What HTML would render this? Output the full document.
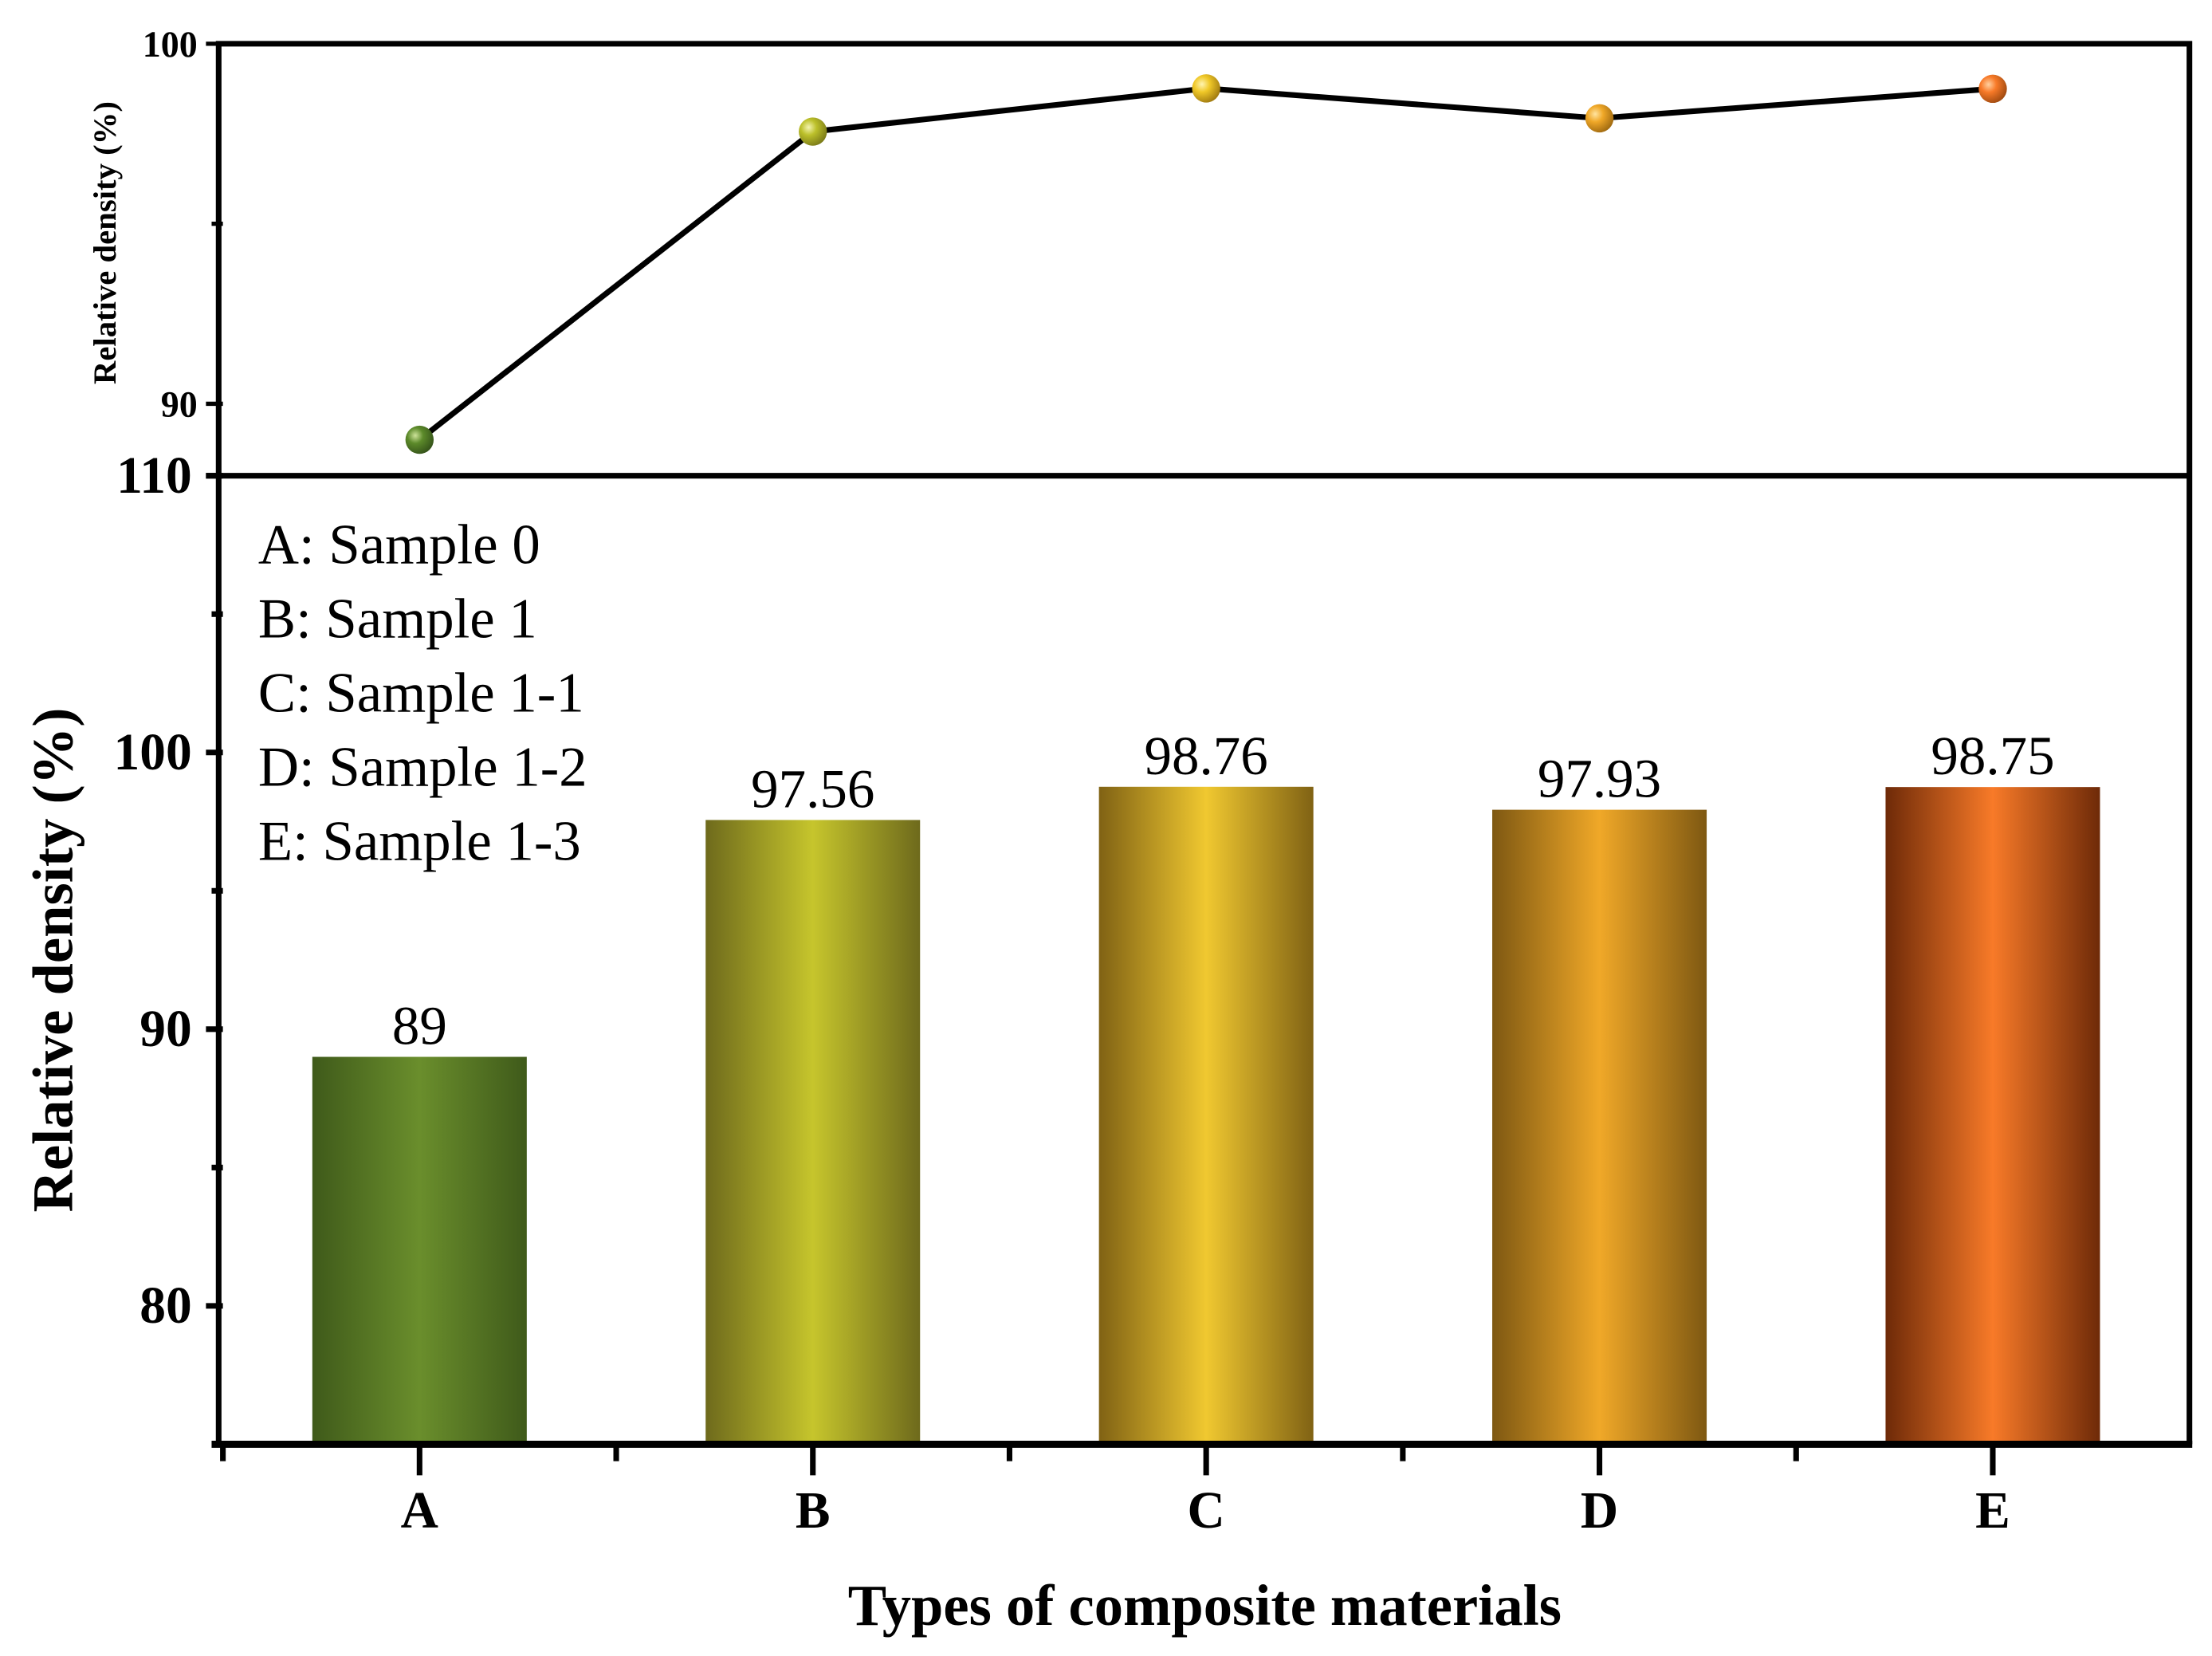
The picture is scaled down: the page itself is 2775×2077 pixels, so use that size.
<!DOCTYPE html>
<html><head><meta charset="utf-8"><style>
html,body{margin:0;padding:0;background:#fff}
svg{display:block}
text{font-family:"Liberation Serif",serif;fill:#000}
</style></head><body>
<svg id="chart" width="2775" height="2077" viewBox="0 0 1568 1173" preserveAspectRatio="none" xmlns="http://www.w3.org/2000/svg">
<defs>
<linearGradient id="gA" x1="0" x2="1" y1="0" y2="0"><stop offset="0" stop-color="#3f5a1a"/><stop offset="0.5" stop-color="#6a8e2c"/><stop offset="1" stop-color="#3f5a1a"/></linearGradient>
<linearGradient id="gB" x1="0" x2="1" y1="0" y2="0"><stop offset="0" stop-color="#6e6a1c"/><stop offset="0.5" stop-color="#c6c52c"/><stop offset="1" stop-color="#6e6a1c"/></linearGradient>
<linearGradient id="gC" x1="0" x2="1" y1="0" y2="0"><stop offset="0" stop-color="#806214"/><stop offset="0.5" stop-color="#f0c830"/><stop offset="1" stop-color="#806214"/></linearGradient>
<linearGradient id="gD" x1="0" x2="1" y1="0" y2="0"><stop offset="0" stop-color="#7e5812"/><stop offset="0.5" stop-color="#f0a828"/><stop offset="1" stop-color="#7e5812"/></linearGradient>
<linearGradient id="gE" x1="0" x2="1" y1="0" y2="0"><stop offset="0" stop-color="#6e2a08"/><stop offset="0.5" stop-color="#f87a28"/><stop offset="1" stop-color="#6e2a08"/></linearGradient>
<radialGradient id="mA" cx="0.35" cy="0.35" r="0.7"><stop offset="0" stop-color="#cde39a"/><stop offset="0.4" stop-color="#5c8a2a"/><stop offset="1" stop-color="#35531a"/></radialGradient>
<radialGradient id="mB" cx="0.35" cy="0.35" r="0.7"><stop offset="0" stop-color="#f4f4b0"/><stop offset="0.4" stop-color="#bcc02a"/><stop offset="1" stop-color="#7a7a18"/></radialGradient>
<radialGradient id="mC" cx="0.35" cy="0.35" r="0.7"><stop offset="0" stop-color="#fff4b0"/><stop offset="0.4" stop-color="#f0c828"/><stop offset="1" stop-color="#a07a10"/></radialGradient>
<radialGradient id="mD" cx="0.35" cy="0.35" r="0.7"><stop offset="0" stop-color="#ffe4a0"/><stop offset="0.4" stop-color="#f0a828"/><stop offset="1" stop-color="#a06a10"/></radialGradient>
<radialGradient id="mE" cx="0.35" cy="0.35" r="0.7"><stop offset="0" stop-color="#ffd0a0"/><stop offset="0.4" stop-color="#f87a28"/><stop offset="1" stop-color="#a04a10"/></radialGradient>
</defs>
<g id="layer"></g>
</svg>
<script>
const categories = ["A","B","C","D","E"];
const densityValues = [89, 97.56, 98.76, 97.93, 98.75];
const valueLabels = ["89","97.56","98.76","97.93","98.75"];
const bottomTicks = [80, 90, 100, 110];
const topTicks = [90, 100];
const legendLines = ["A: Sample 0","B: Sample 1","C: Sample 1-1","D: Sample 1-2","E: Sample 1-3"];

const NS = "http://www.w3.org/2000/svg";
const L = document.getElementById("layer");
function mk(tag, attrs, txt){const e=document.createElementNS(NS,tag);for(const k in attrs)e.setAttribute(k,attrs[k]);if(txt!==undefined)e.textContent=txt;L.appendChild(e);return e;}
const xL=158, xR=1552, yTop=31, yDiv=337, yBot=1023;
function xPos(i){return xL + (i+0.5)*(xR-xL)/categories.length;}
function yB(v){return 337 + (110-v)*19.6;}
function yT(v){return 31 + (100-v)*25.5;}
const gradIds=["A","B","C","D","E"];

categories.forEach((c,i)=>{
  const v=densityValues[i], x=xPos(i), y=yB(v);
  const r=mk("rect",{x:x-76,y:y,width:152,height:yBot-y,fill:"url(#g"+gradIds[i%5]+")"});
  
  
  const t=mk("text",{x:x,y:y-9,"text-anchor":"middle","font-size":39},valueLabels[i]);
  
  
});
const pts=categories.map((c,i)=>xPos(i)+","+yT(densityValues[i])).join(" ");
const pl=mk("polyline",{points:pts,fill:"none",stroke:"#000","stroke-width":4});


categories.forEach((c,i)=>{
  const m=mk("circle",{cx:xPos(i),cy:yT(densityValues[i]),r:10,fill:"url(#m"+gradIds[i%5]+")"});
  
  
});
const f1=mk("path",{d:`M${xL-3} ${yDiv} L${xL-3} ${yTop} L${xR} ${yTop} L${xR} ${yBot}`,fill:"none",stroke:"#000","stroke-width":4});


const f2=mk("line",{x1:xL-3,y1:yDiv,x2:xL-3,y2:yBot,stroke:"#000","stroke-width":4});


const f3=mk("line",{x1:146,y1:yDiv,x2:xR,y2:yDiv,stroke:"#000","stroke-width":4});


const f4=mk("line",{x1:150,y1:yBot,x2:xR+2,y2:yBot,stroke:"#000","stroke-width":5});


bottomTicks.forEach(v=>{
  mk("line",{x1:146,y1:yB(v),x2:xL,y2:yB(v),stroke:"#000","stroke-width":4});
  const t=mk("text",{x:136,y:yB(v)+12,"text-anchor":"end","font-size":37,"font-weight":"bold"},String(v));
  
  
});
[85,95,105].forEach(v=>mk("line",{x1:150,y1:yB(v),x2:xL,y2:yB(v),stroke:"#000","stroke-width":4}));
topTicks.forEach(v=>{
  mk("line",{x1:146,y1:yT(v),x2:xL,y2:yT(v),stroke:"#000","stroke-width":3});
  const t=mk("text",{x:140,y:yT(v)+9,"text-anchor":"end","font-size":26,"font-weight":"bold"},String(v));
  
  
});
mk("line",{x1:150,y1:yT(95),x2:xL,y2:yT(95),stroke:"#000","stroke-width":3});
categories.forEach((c,i)=>{
  mk("line",{x1:xPos(i),y1:yBot,x2:xPos(i),y2:yBot+22,stroke:"#000","stroke-width":4});
  const t=mk("text",{x:xPos(i),y:1082,"text-anchor":"middle","font-size":37,"font-weight":"bold"},c);
  
  
  const xm=xL+(i)*(xR-xL)/categories.length;
  if(i>0) mk("line",{x1:xm,y1:yBot,x2:xm,y2:yBot+12,stroke:"#000","stroke-width":4});
});
mk("line",{x1:158,y1:yBot,x2:158,y2:yBot+12,stroke:"#000","stroke-width":4});
const xt=mk("text",{x:854,y:1151,"text-anchor":"middle","font-size":41,"font-weight":"bold"},"Types of composite materials");


const yt=mk("text",{x:0,y:0,"text-anchor":"middle","font-size":41,"font-weight":"bold",transform:"translate(51,680) rotate(-90)"},"Relative density (%)");


const yt2=mk("text",{x:0,y:0,"text-anchor":"middle","font-size":23,"font-weight":"bold",transform:"translate(82,172) rotate(-90)"},"Relative density (%)");


legendLines.forEach((s,i)=>{
  const t=mk("text",{x:183,y:399+i*52.5,"font-size":40},s);
  
  
});
</script>
</body></html>
